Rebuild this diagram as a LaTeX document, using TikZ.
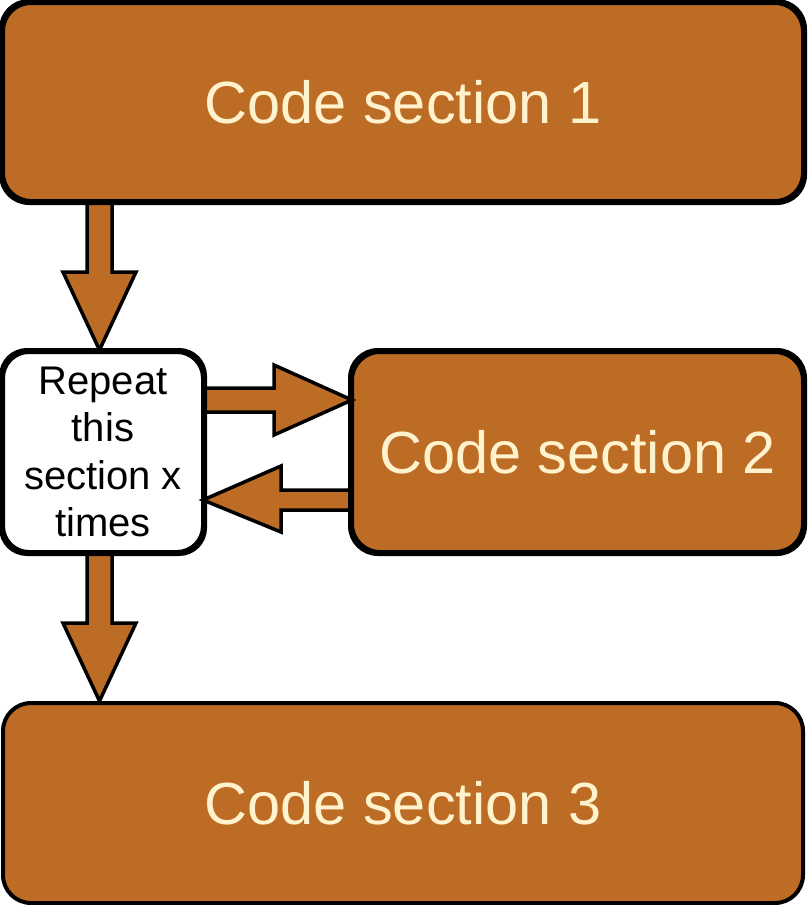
\documentclass[tikz,border=0pt]{standalone}
\usepackage{fontspec}
\setmainfont{Liberation Sans}
\usetikzlibrary{calc}
\definecolor{boxfill}{RGB}{188,108,37}
\definecolor{boxtext}{RGB}{255,242,204}
\tikzset{
  codebox/.style={draw=black, line width=4pt, fill=boxfill, rounded corners=28pt,
    text=boxtext, font=\fontsize{59.5}{70}\selectfont, inner sep=0pt},
  repbox/.style={draw=black, line width=4pt, fill=white, rounded corners=26pt,
    text=black, font=\fontsize{40}{47.5}\selectfont, align=center, inner sep=0pt},
  fat/.style={draw=black, line width=3.5pt, fill=boxfill, line join=miter}
}
\begin{document}
\begin{tikzpicture}[x=1pt, y=-1pt]
\useasboundingbox (0,0) rectangle (810,905);
% nodes
\node[codebox, minimum width=800pt, minimum height=198pt] (b1) at (403,102) {Code section 1};
\node[repbox, minimum width=200pt, minimum height=200pt] (bR) at (103,452) {Repeat\\this\\section x\\times};
\node[codebox, minimum width=451pt, minimum height=200pt] (b2) at (577.5,452) {Code section 2};
\node[codebox, minimum width=800pt, minimum height=200pt] (b3) at (403,803) {Code section 3};
% arrows
\draw[fat] ($(b1.south west)+(86,0)$) -- ++(0,69) -- ++(-24,0) -- ++(36.5,78) -- ++(36.5,-78) -- ++(-24,0) -- ++(0,-69) -- cycle;
\draw[fat] ($(bR.south west)+(86,0)$) -- ++(0,69) -- ++(-24,0) -- ++(36.5,78) -- ++(36.5,-78) -- ++(-24,0) -- ++(0,-69) -- cycle;
\draw[fat] ($(bR.north east)+(0,38)$) -- ++(69,0) -- ++(0,-23) -- ++(78,35) -- ++(-78,35) -- ++(0,-23) -- ++(-69,0) -- cycle;
\draw[fat] ($(b2.north west)+(0,140)$) -- ++(-69,0) -- ++(0,-24) -- ++(-78,34) -- ++(78,32) -- ++(0,-22) -- ++(69,0) -- cycle;
% redraw box borders on top of arrow ends
\draw[line width=4pt, rounded corners=28pt] (b1.south west) rectangle (b1.north east);
\draw[line width=4pt, rounded corners=26pt] (bR.south west) rectangle (bR.north east);
\draw[line width=4pt, rounded corners=28pt] (b2.south west) rectangle (b2.north east);
\end{tikzpicture}
\end{document}
